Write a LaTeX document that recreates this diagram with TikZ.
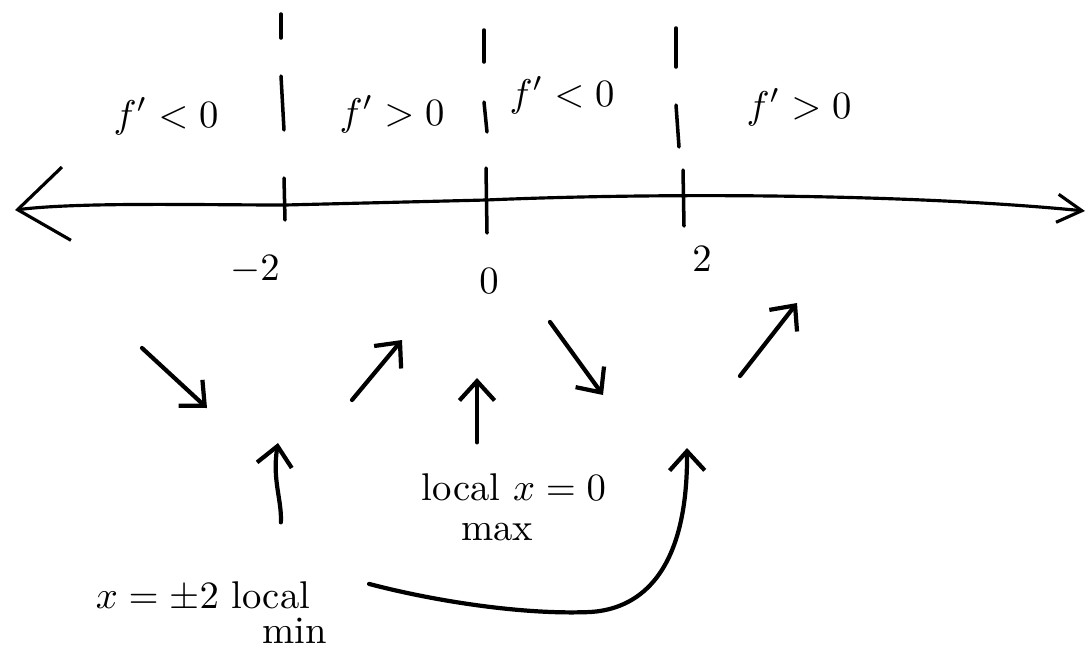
\documentclass[tikz,border=0pt]{standalone}
\usetikzlibrary{arrows.meta,positioning}
\newcommand{\pxUnit}{0.02cm}
\newcommand{\penWidth}{2.4pt}
\newcommand{\handScale}{2.2}

\begin{document}
\begin{tikzpicture}[x=\pxUnit, y=-\pxUnit,
    pen/.style={line width=\penWidth, line cap=round, line join=round},
    handArrow/.style={pen, -{Straight Barb[length=11pt,width=20pt]}},
    handText/.style={scale=\handScale, transform shape, inner sep=0.5pt}]
  \useasboundingbox (0,0) rectangle (1088,650);

  % number line
  \coordinate (lineLeft) at (15,210);
  \coordinate (lineRight) at (1085,211);
  \draw[pen, line width=1.8pt, {Straight Barb[length=28pt,width=42pt]}-{Straight Barb[length=14pt,width=16pt]}]
    (lineLeft) .. controls (80,202) and (200,205) .. (285,205) -- (486,200)
    .. controls (650,193) and (900,193) .. (lineRight);
  \foreach \tx/\ta/\tb in {284/178/220, 486/168/233, 683/170/226}
    \draw[pen, line width=2pt] (\tx,\ta) -- (\tx+1,\tb);

  % broken separators
  \foreach \sx/\sa/\sb/\sc/\sd in {281/14/38/76/130, 484/30/62/102/132, 676/28/67/105/147}{
    \draw[pen, line width=2pt] (\sx,\sa) -- (\sx,\sb);
    \draw[pen, line width=2pt] (\sx,\sc) -- (\sx+3,\sd);
  }

  \node (signA) [handText, anchor=base] at (166,127) {$f'<0$};
  \node (signB) [handText, anchor=base] at (392,125) {$f'>0$};
  \node (signC) [handText, anchor=base] at (562,106) {$f'<0$};
  \node (signD) [handText, anchor=base] at (799,118) {$f'>0$};

  \node (tickNeg) [handText] at (255,270) {$-2$};
  \node (tickZero) [handText] at (489,281) {$0$};
  \node (tickPos) [handText] at (702,259) {$2$};

  % slopes
  \coordinate (fallA) at (142,348); \coordinate (fallAEnd) at (207,408);
  \coordinate (riseA) at (352,400); \coordinate (riseAEnd) at (402,340);
  \coordinate (fallB) at (550,322); \coordinate (fallBEnd) at (603,395);
  \coordinate (riseB) at (740,376); \coordinate (riseBEnd) at (797,303);
  \draw[handArrow] (fallA) -- (fallAEnd);
  \draw[handArrow] (riseA) -- (riseAEnd);
  \draw[handArrow] (fallB) -- (fallBEnd);
  \draw[handArrow] (riseB) -- (riseBEnd);

  \node (minText) [handText, anchor=base] at (203,608) {$x=\pm2$ local};
  \node (minWord) [handText, anchor=base] at (295,643) {min};
  \node (maxText) [handText, anchor=base] at (514,500) {local $x=0$};
  \node (maxWord) [handText, anchor=base] at (497,540) {max};

  \coordinate (minPoint) at (278,443);
  \coordinate (maxPoint) at (477,378);
  \coordinate (curveTip) at (687,448);
  \draw[handArrow, shorten <=32pt] (minText.north -| minPoint)
    .. controls (282,500) and (272,480) .. (minPoint);
  \draw[handArrow, shorten <=16pt] (maxText.north -| maxPoint) -- (maxPoint);
  \draw[handArrow] ([xshift=32pt,yshift=7pt]minText.east)
    .. controls (430,600) and (520,615) .. (590,612)
    .. controls (625,610) and (688,590) .. (curveTip);
\end{tikzpicture}
\end{document}
